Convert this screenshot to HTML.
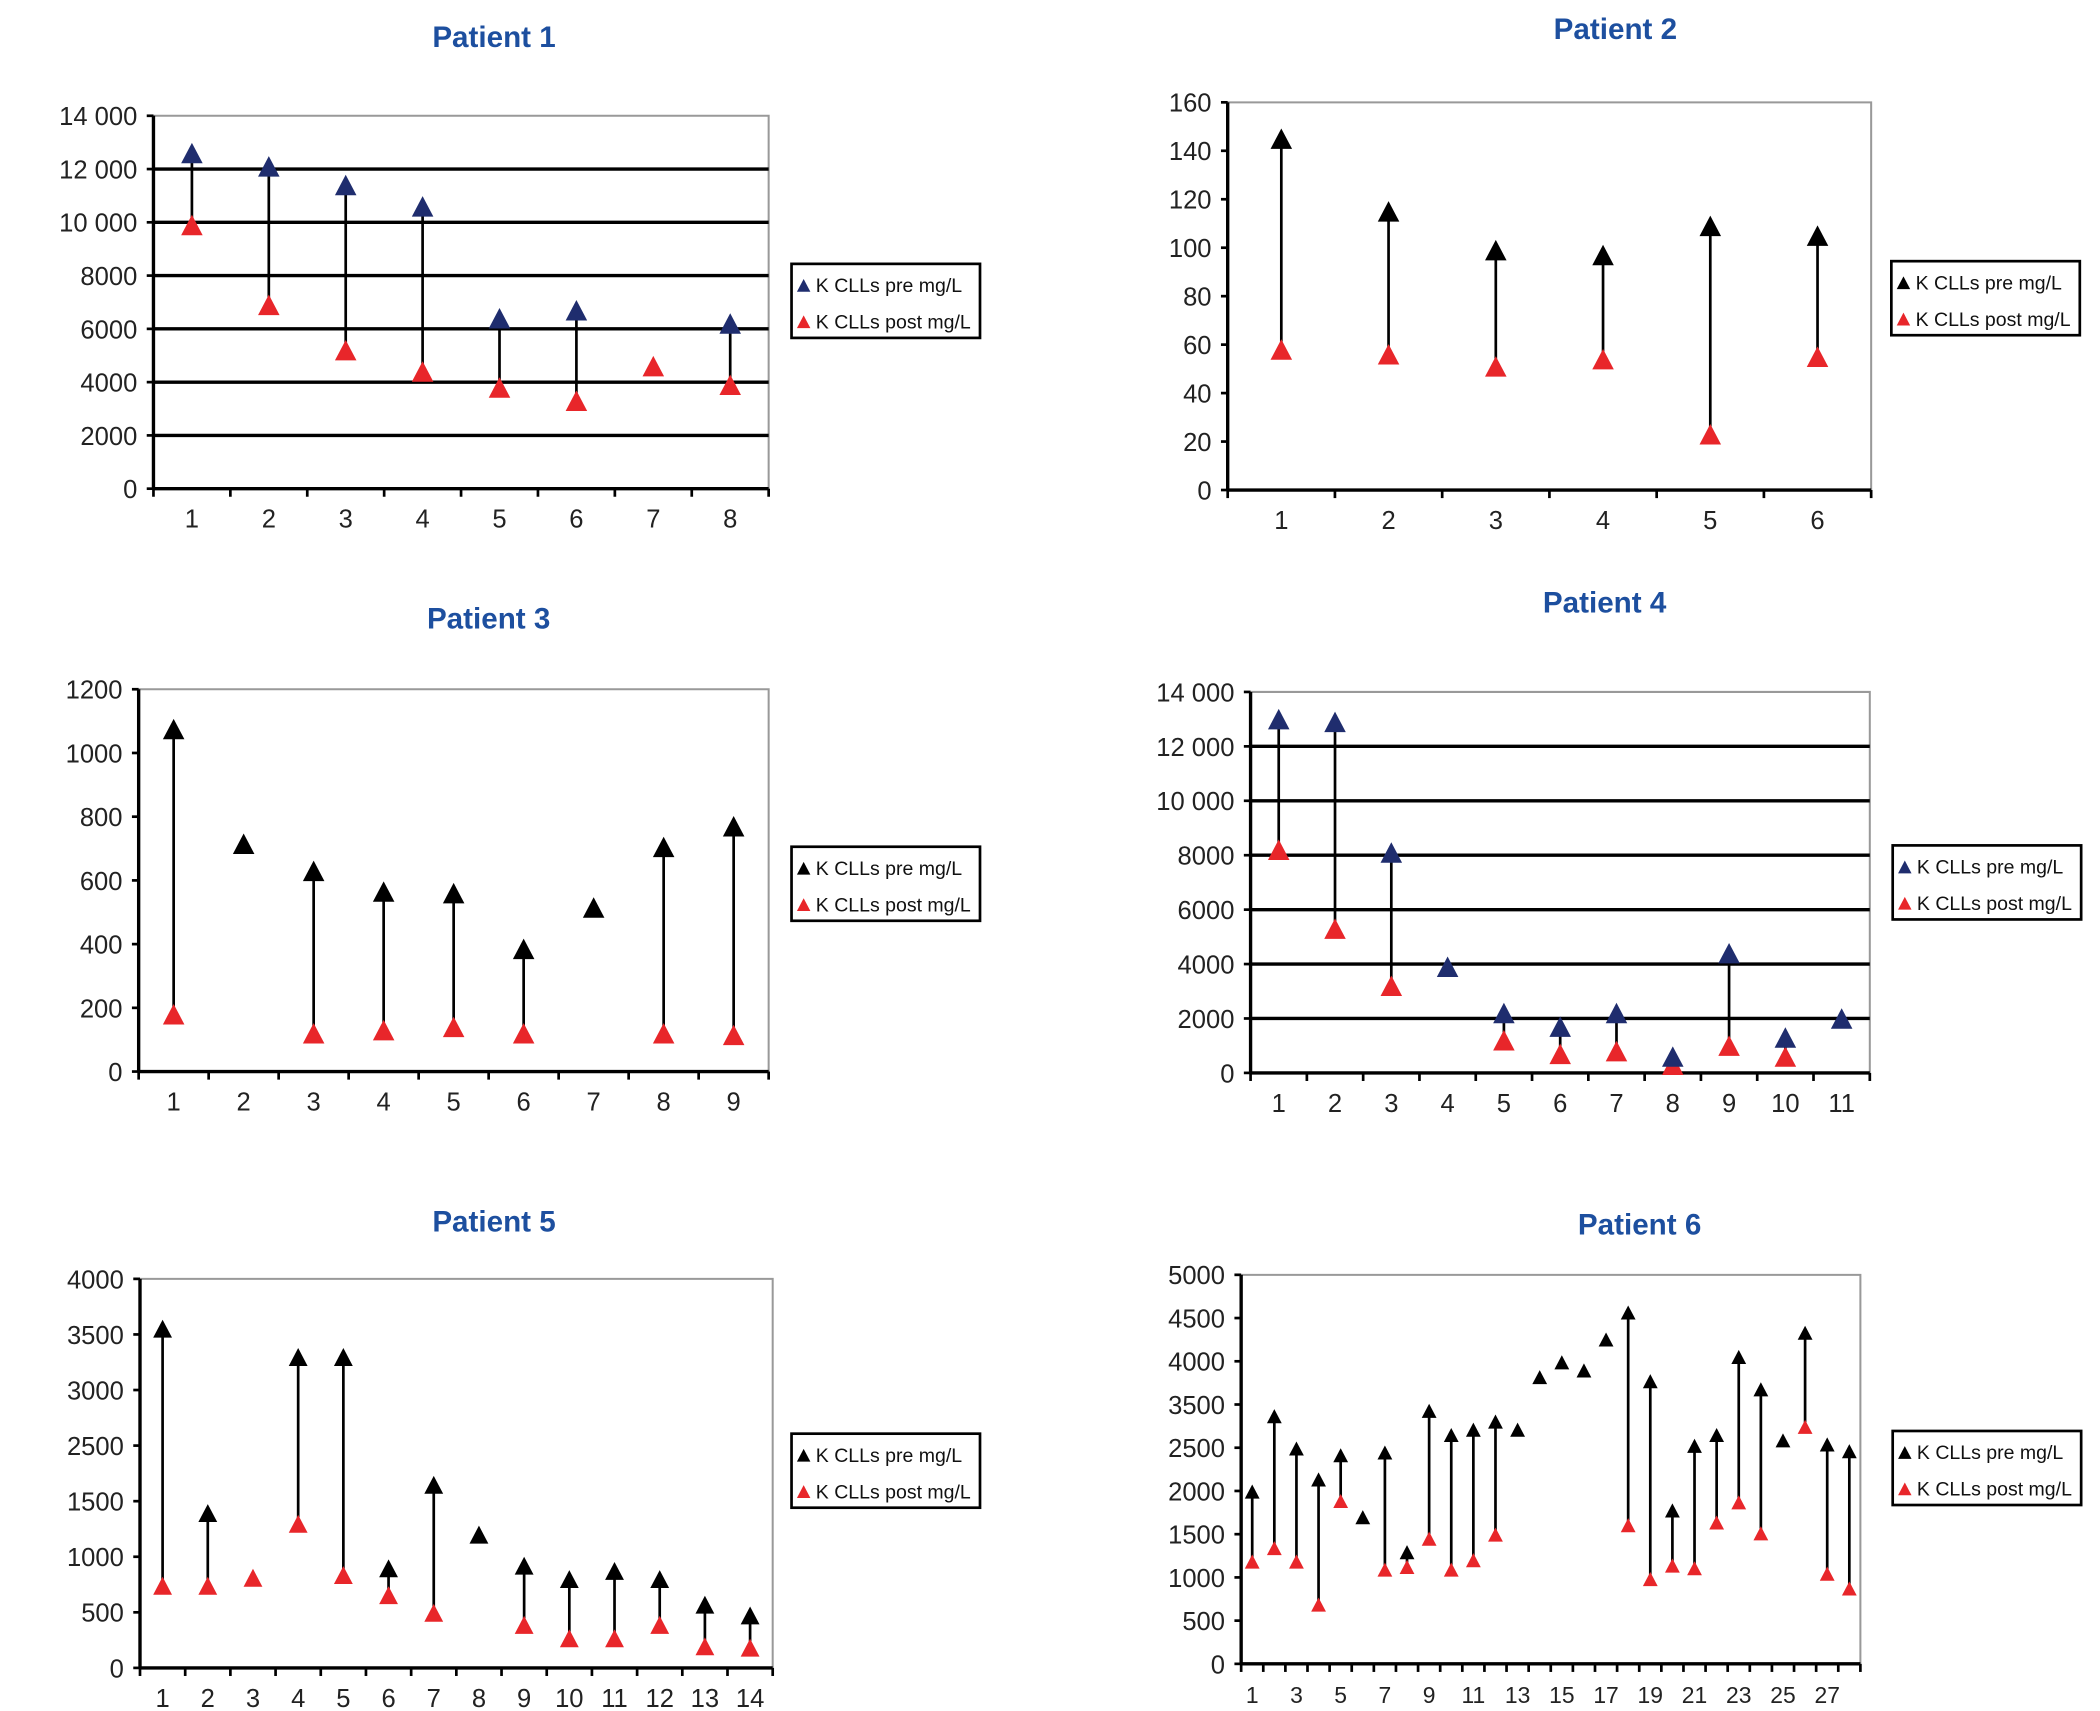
<!DOCTYPE html>
<html><head><meta charset="utf-8"><style>
html,body{margin:0;padding:0;background:#fff;}
svg{display:block;}
text{font-family:"Liberation Sans",sans-serif;}
</style></head><body>
<svg id="fig" width="2100" height="1711" viewBox="0 0 1560 1271" xmlns="http://www.w3.org/2000/svg"></svg>
<script>
// Patient 1
const p1Categories=["1","2","3","4","5","6","7","8"];
const p1Pre=[12600,12100,11400,10600,6400,6700,null,6200];
const p1Post=[9900,6900,5200,4400,3800,3300,4600,3900];
const p1TickLabels=["0","2000","4000","6000","8000","10 000","12 000","14 000"];
// Patient 2
const p2Categories=["1","2","3","4","5","6"];
const p2Pre=[145,115,99,97,109,105];
const p2Post=[58,56,51,54,23,55];
const p2TickLabels=["0","20","40","60","80","100","120","140","160"];
// Patient 3
const p3Categories=["1","2","3","4","5","6","7","8","9"];
const p3Pre=[1075,715,630,565,560,385,515,705,770];
const p3Post=[180,null,120,130,140,120,null,120,115];
const p3TickLabels=["0","200","400","600","800","1000","1200"];
// Patient 4
const p4Categories=["1","2","3","4","5","6","7","8","9","10","11"];
const p4Pre=[13000,12900,8100,3900,2200,1700,2200,600,4400,1300,2000];
const p4Post=[8200,5300,3200,null,1200,700,800,300,1000,600,null];
const p4TickLabels=["0","2000","4000","6000","8000","10 000","12 000","14 000"];
// Patient 5
const p5Categories=["1","2","3","4","5","6","7","8","9","10","11","12","13","14"];
const p5Pre=[3052,1393,null,2797,2797,896,1647,1199,920,799,872,799,569,472];
const p5Post=[739,739,811,1296,835,654,496,null,387,266,266,387,194,182];
const p5TickLabels=["0","500","1000","1500","2500","3000","3500","4000"];
// Patient 6
const p6Categories=["1","2","3","4","5","6","7","8","9","10","11","12","13","14","15","16","17","18","19","20","21","22","23","24","25","26","27","28"];
const p6Pre=[1993,2865,2491,2133,2413,1697,2445,1292,2927,2647,2709,2803,2709,3317,3488,3394,3752,4064,3270,1775,2522,2647,3550,3176,2585,3830,2538,2460];
const p6Post=[1183,1339,1183,685,1884,null,1090,1121,1448,1090,1199,1495,null,null,null,null,null,1604,981,1137,1106,1635,1868,1510,null,2741,1043,872];
const p6TickLabels=["0","500","1000","1500","2000","2500","3500","4000","4500","5000"];

const NS="http://www.w3.org/2000/svg";
const svg=document.getElementById('fig');
function mk(tag,attrs,parent){const e=document.createElementNS(NS,tag);for(const k in attrs)e.setAttribute(k,attrs[k]);(parent||svg).appendChild(e);return e;}

const panels=[
 {id:'patient-1',title:'Patient 1',tx:367,ty:35,cats:p1Categories,pre:p1Pre,post:p1Post,ticks:p1TickLabels,step:2000,l:114,r:571,t:86,b:363,grid:true,preColor:'#1f2d6e',lx:588,ly:196,every:1},
 {id:'patient-2',title:'Patient 2',tx:1200,ty:29,cats:p2Categories,pre:p2Pre,post:p2Post,ticks:p2TickLabels,step:20,l:912,r:1390,t:76,b:364,grid:false,preColor:'#000',lx:1405,ly:194,every:1},
 {id:'patient-3',title:'Patient 3',tx:363,ty:467,cats:p3Categories,pre:p3Pre,post:p3Post,ticks:p3TickLabels,step:200,l:103,r:571,t:512,b:796,grid:false,preColor:'#000',lx:588,ly:629,every:1},
 {id:'patient-4',title:'Patient 4',tx:1192,ty:455,cats:p4Categories,pre:p4Pre,post:p4Post,ticks:p4TickLabels,step:2000,l:929,r:1389,t:514,b:797,grid:true,preColor:'#1f2d6e',lx:1406,ly:628,every:1},
 {id:'patient-5',title:'Patient 5',tx:367,ty:915,cats:p5Categories,pre:p5Pre,post:p5Post,ticks:p5TickLabels,step:500,l:104,r:574,t:950,b:1239,grid:false,preColor:'#000',lx:588,ly:1065,every:1},
 {id:'patient-6',title:'Patient 6',tx:1218,ty:917,cats:p6Categories,pre:p6Pre,post:p6Post,ticks:p6TickLabels,step:500,l:922,r:1382,t:947,b:1236,grid:false,preColor:'#000',lx:1406,ly:1063,every:2}
];

function tri(g,cx,cy,s,color,name){
  const h=s*0.95;
  const p=mk('polygon',{points:`${cx},${cy-h/2} ${cx+s/2},${cy+h/2} ${cx-s/2},${cy+h/2}`,fill:color},g);
  
  
  return p;
}

panels.forEach(P=>{
  const g=mk('g',{});
  
  
  const yMax=P.step*(P.ticks.length-1);
  const y=v=>P.b-(v/yMax)*(P.b-P.t);
  const n=P.cats.length, bw=(P.r-P.l)/n;
  const x=i=>P.l+bw*(i+0.5);
  const t=mk('text',{x:P.tx,y:P.ty,'text-anchor':'middle','font-size':22,'font-weight':'bold',fill:'#1d4f9f'},g);
  t.textContent=P.title;
  
  
  const fr=mk('polyline',{points:`${P.l},${P.t} ${P.r},${P.t} ${P.r},${P.b}`,fill:'none',stroke:'#999','stroke-width':1.5},g);
  
  
  P.ticks.forEach((lab,i)=>{
    const yy=y(i*P.step);
    if(P.grid && i>0 && i<P.ticks.length-1){
      const gl=mk('line',{x1:P.l,x2:P.r,y1:yy,y2:yy,stroke:'#000','stroke-width':2.5},g);
      
      
    }
    mk('line',{x1:P.l-5,x2:P.l,y1:yy,y2:yy,stroke:'#000','stroke-width':2},g);
    const tl=mk('text',{x:P.l-12,y:yy+7,'text-anchor':'end','font-size':19,fill:'#222'},g);
    tl.textContent=lab;
    
    
  });
  const ya=mk('line',{x1:P.l,x2:P.l,y1:P.t,y2:P.b,stroke:'#000','stroke-width':2.5},g);
  
  
  const xa=mk('line',{x1:P.l,x2:P.r,y1:P.b,y2:P.b,stroke:'#000','stroke-width':2.5},g);
  
  
  for(let i=0;i<=n;i++){const xx=P.l+bw*i;mk('line',{x1:xx,x2:xx,y1:P.b,y2:P.b+6,stroke:'#000','stroke-width':2},g);}
  P.cats.forEach((c,i)=>{
    if(i%P.every!==0)return;
    const xl=mk('text',{x:x(i),y:P.b+29,'text-anchor':'middle','font-size':P.every>1?17:19,fill:'#222'},g);
    xl.textContent=c;
    
    
  });
  const s=n>20?11:(n>12?14:16);
  P.cats.forEach((c,i)=>{
    const a=P.pre[i], b=P.post[i];
    if(a!=null&&b!=null){
      const st=mk('line',{x1:x(i),x2:x(i),y1:y(a),y2:y(b),stroke:'#000','stroke-width':2},g);
      
      
    }
  });
  P.cats.forEach((c,i)=>{
    if(P.post[i]!=null)tri(g,x(i),y(P.post[i]),s,'#e8262a','post-marker');
    if(P.pre[i]!=null)tri(g,x(i),y(P.pre[i]),s,P.preColor,'pre-marker');
  });
  const lg=mk('g',{},g);
  
  
  mk('rect',{x:P.lx,y:P.ly,width:140,height:55,fill:'#fff',stroke:'#000','stroke-width':2},lg);
  [['K CLLs pre mg/L',P.preColor],['K CLLs post mg/L','#e8262a']].forEach((e,k)=>{
    const yy=P.ly+16+k*27;
    tri(lg,P.lx+9,yy,10,e[1],'legend-marker');
    const lt=mk('text',{x:P.lx+18,y:yy+5,'font-size':14.5,fill:'#111'},lg);
    lt.textContent=e[0];
    
    
  });
});
</script>
</body></html>
